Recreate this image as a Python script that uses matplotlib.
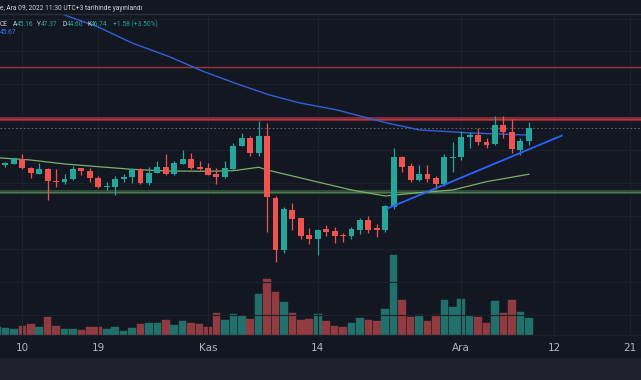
import matplotlib
matplotlib.use("Agg")
import matplotlib.pyplot as plt
from matplotlib.lines import Line2D
from matplotlib.patches import Rectangle
import numpy as np

BG = "#131722"
UP = "#26a69a"
DOWN = "#ef5350"
VOL_UP = "#22706b"
VOL_DOWN = "#8f3b3f"

# daily candles, 7 Oct 2022 .. 9 Dec 2022
opens = [42.21, 42.24, 42.37, 42.90, 41.88, 41.15, 41.72, 40.30, 40.18, 40.47,
         41.81, 41.51, 40.66, 39.53, 39.57, 40.54, 40.79, 41.68, 40.05, 41.27,
         41.97, 41.15, 42.37, 42.94, 42.00, 41.81, 41.08, 40.75, 41.72, 44.55,
         45.52, 43.63, 45.73, 38.23, 31.88, 36.74, 35.73, 33.70, 33.21, 34.39,
         34.14, 33.74, 33.58, 34.31, 35.52, 34.51, 34.31, 37.14, 43.14, 42.09,
         40.38, 41.11, 40.59, 39.90, 43.09, 43.14, 45.57, 45.82, 45.04, 44.72,
         47.07, 46.25, 44.03, 45.16]
highs = [42.69, 42.61, 43.09, 43.51, 41.95, 42.41, 41.81, 41.72, 41.08, 42.12,
         41.88, 41.81, 40.91, 40.18, 40.87, 41.08, 41.88, 41.81, 41.93, 42.73,
         43.54, 42.73, 44.03, 43.63, 42.73, 42.41, 41.88, 42.69, 44.84, 46.06,
         45.77, 47.55, 47.27, 38.48, 37.14, 37.59, 35.80, 34.51, 34.39, 34.92,
         34.64, 33.91, 34.64, 35.73, 36.01, 35.00, 37.35, 44.24, 43.30, 42.41,
         42.21, 42.21, 40.87, 43.54, 45.04, 46.37, 46.25, 46.67, 45.45, 48.16,
         48.16, 47.76, 45.45, 47.37]
lows = [42.09, 41.93, 42.29, 41.72, 40.59, 41.08, 37.96, 39.57, 39.94, 40.38,
        40.99, 40.18, 39.38, 39.17, 38.56, 40.11, 39.98, 39.90, 39.78, 41.20,
        41.03, 41.03, 42.33, 41.68, 41.60, 40.95, 39.86, 40.66, 41.60, 44.52,
        43.34, 43.34, 34.10, 30.46, 31.48, 34.31, 33.21, 32.61, 31.27, 33.58,
        32.77, 32.89, 33.18, 33.82, 33.91, 33.49, 34.10, 36.82, 41.39, 40.18,
        40.30, 40.18, 39.25, 39.66, 41.39, 42.81, 44.24, 44.64, 44.24, 44.64,
        45.45, 43.70, 43.42, 44.60]
closes = [42.45, 42.41, 43.02, 41.81, 41.24, 41.72, 40.30, 40.14, 40.51, 41.72,
          41.51, 40.66, 39.57, 39.69, 40.51, 40.75, 41.68, 40.05, 41.27, 41.97,
          41.15, 42.49, 42.94, 41.84, 41.76, 41.03, 40.75, 41.81, 44.55, 45.52,
          43.63, 45.73, 38.28, 31.88, 36.82, 35.65, 33.62, 33.21, 34.31, 34.10,
          33.58, 33.62, 34.43, 35.52, 34.31, 34.31, 37.22, 43.14, 41.97, 40.38,
          41.11, 40.51, 39.90, 43.21, 43.21, 45.57, 45.82, 45.00, 44.67, 47.07,
          46.25, 44.12, 45.16, 46.74]
volumes = [24, 22, 17, 28, 33, 24, 55, 28, 19, 19,
           16, 24, 24, 17, 25, 13, 22, 34, 37, 35,
           46, 30, 43, 37, 33, 25, 66, 46, 64, 58,
           49, 122, 166, 129, 100, 67, 46, 49, 64, 43,
           28, 25, 37, 52, 46, 43, 79, 239, 106, 55,
           60, 41, 60, 104, 83, 109, 58, 55, 37, 101,
           67, 106, 70, 52]

tick_idx = [3, 12, 25, 38, 55, 66, 75]
tick_labels = ["10", "19", "Kas", "14", "Ara", "12", "21"]

# moving averages
ma_green_idx = [0, 4, 8, 12, 16, 20, 25, 28, 31, 32, 38, 42, 46, 50, 54, 58, 63]
ma_green_val = [43.09, 42.81, 42.33, 42.00, 41.68, 41.48, 41.44, 41.51, 41.93, 41.60,
                40.14, 39.17, 38.44, 38.84, 39.17, 40.18, 41.08]
ma_blue_idx = [6, 8, 12, 16, 20.5, 24.6, 28.8, 32.3, 35.9, 40.3, 43, 46.2, 50.1, 56, 62.6, 63]
ma_blue_val = [61.30, 60.43, 58.97, 57.03, 55.33, 53.51, 51.93, 50.71, 49.74, 48.89,
               48.16, 47.31, 46.46, 46.10, 45.85, 45.67]

trend_idx = [46.3, 66.9]
trend_val = [36.94, 45.77]
resistances = [54.11, 47.76]
support = 38.96
last_price = 46.74

W, H = 641, 380


def fy(py):
    return 1 - py / H


fig = plt.figure(figsize=(W / 100, H / 100), dpi=100, facecolor=BG)
rect = [0, fy(335), 1, (335 - 14) / H]
axv = fig.add_axes(rect, zorder=0, facecolor=BG)
axp = fig.add_axes(rect, zorder=1, facecolor="none", sharex=axv)

x = np.arange(len(opens))
o = np.array(opens)
c = np.array(closes)
up = c >= o

# volume
vcols = np.where(up, VOL_UP, VOL_DOWN)
axv.bar(x, volumes, width=0.9, color=vcols, edgecolor=vcols, lw=0.3)
axv.set_ylim(0, 960)
axv.set_yticks([])
axv.tick_params(axis="x", length=0, labelbottom=False)
for s in axv.spines.values():
    s.set_visible(False)

# grid
axp.set_yticks(np.arange(24, 61, 4))
axp.set_yticklabels([])
axp.grid(True, color="#1c202b", lw=0.8)
axp.set_axisbelow(True)

# levels
axp.axhline(resistances[0], color="#a3323c", lw=1.0, zorder=2)
axp.axhline(resistances[1], color="#7c2c37", lw=3.0, zorder=2)
axp.axhline(resistances[1], color="#b23a45", lw=0.8, zorder=2)
axp.axhline(support, color="#2f4b34", lw=3.0, zorder=2)
axp.axhline(support, color="#4c7a4f", lw=0.8, zorder=2)
axp.axhline(last_price, color="#5a6270", lw=0.8, ls=(0, (1.5, 2)), zorder=2)

# moving averages
axp.plot(ma_green_idx, ma_green_val, color="#7fae6a", lw=0.9, zorder=3)
axp.plot(ma_blue_idx, ma_blue_val, color="#3160d8", lw=1.0, zorder=3)

# candles
cols = np.where(up, UP, DOWN)
axp.vlines(x, lows, highs, colors=cols, lw=0.9, zorder=4)
body = np.maximum(np.abs(c - o), 0.12)
axp.bar(x, body, bottom=np.minimum(o, c), width=0.7, color=cols, zorder=5)

# trend line
axp.plot(trend_idx, trend_val, color="#2962ff", lw=1.3, zorder=6)

axp.set_xlim(0.355, 76.3)
axp.set_ylim(21.55, 60.55)
axp.set_xticks(tick_idx)
axp.set_xticklabels(tick_labels)
axp.tick_params(axis="x", colors="#b2b5be", labelsize=7.5, length=0, pad=6)
axp.tick_params(axis="y", length=0)
for s in axp.spines.values():
    s.set_visible(False)

# frame pieces
fig.add_artist(Line2D([0, 1], [fy(14), fy(14)], color="#2a2e39", lw=1))
fig.add_artist(Line2D([0, 1], [fy(335), fy(335)], color="#1c1f29", lw=1))
fig.patches.append(Rectangle((0, 0), 1, fy(358), transform=fig.transFigure,
                             color="#1f222b", zorder=0))

# header and legend
fs = 4.8
fam = "Roboto"
fig.text(0, fy(8), "e, Ara 09, 2022 11:30 UTC+3 tarihinde yayınlandı",
         color="#d1d4dc", fontsize=fs, va="center", family=fam)
ly = fy(24)
fig.text(0 / W, ly, "CE", color="#d1d4dc", fontsize=fs, va="center", family=fam)
for lab, val, px in [("A", "45.16", 12.5), ("Y", "47.37", 37), ("D", "44.60", 62.5), ("K", "46.74", 87)]:
    fig.text(px / W, ly, lab, color="#d1d4dc", fontsize=fs, va="center", family=fam)
    fig.text((px + 4.2) / W, ly, val, color=UP, fontsize=fs, va="center", family=fam)
fig.text(113 / W, ly, "+1.58 (+3.50%)", color=UP, fontsize=fs, va="center", family=fam)
fig.text(0, fy(33), "45.67", color="#3179f5", fontsize=fs, va="center", family=fam)

fig.savefig("out.png", dpi=100, facecolor=BG)
